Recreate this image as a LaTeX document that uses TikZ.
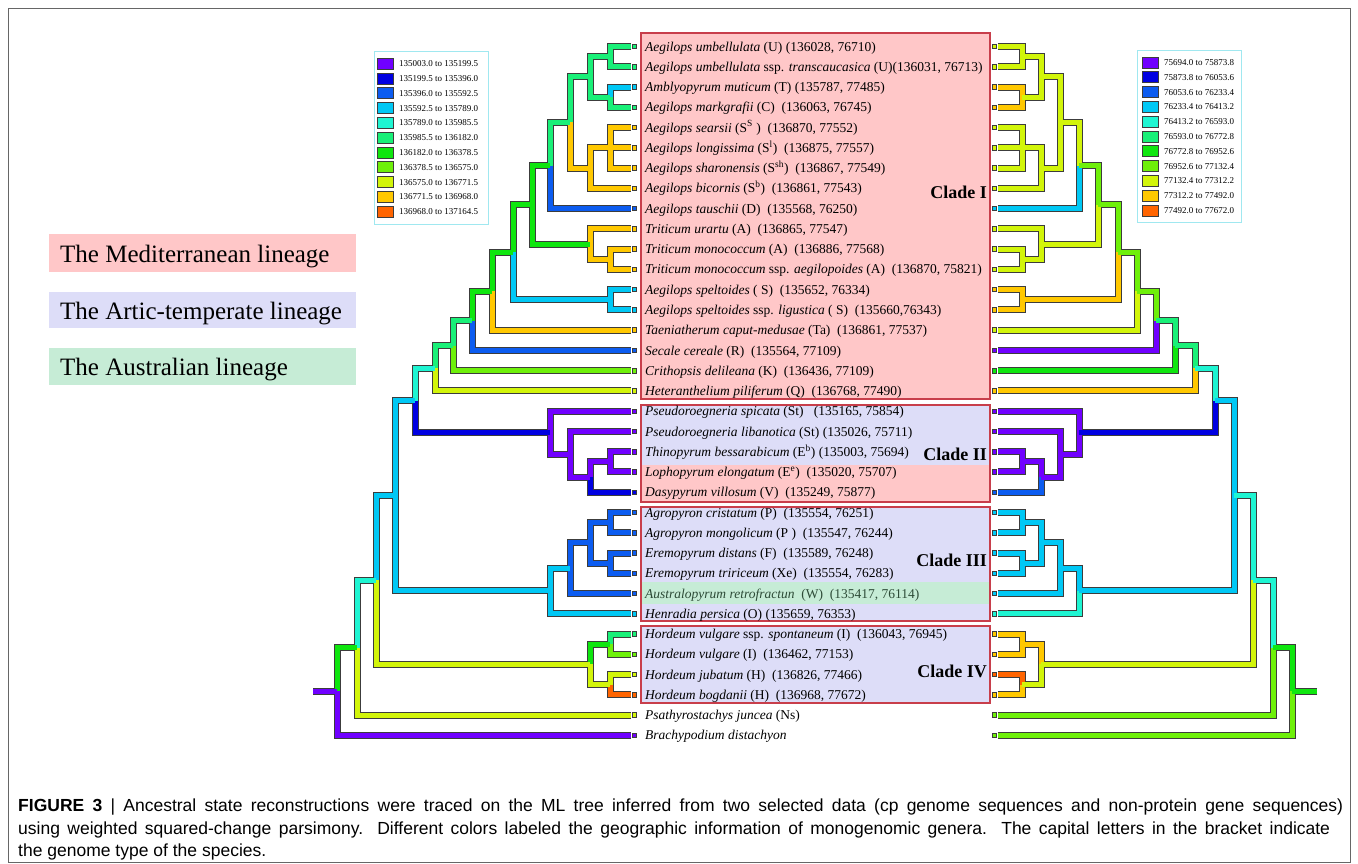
\documentclass[tikz,border=0pt]{standalone}
\usepackage{fontspec}
\setmainfont{Liberation Serif}
\newfontfamily\capfont{Liberation Sans}
\definecolor{cpu}{RGB}{112,0,255}
\definecolor{cbl}{RGB}{0,0,225}
\definecolor{cmb}{RGB}{12,92,240}
\definecolor{csk}{RGB}{0,200,245}
\definecolor{caq}{RGB}{30,245,210}
\definecolor{csg}{RGB}{25,240,120}
\definecolor{cgr}{RGB}{15,230,15}
\definecolor{cyg}{RGB}{110,240,10}
\definecolor{cli}{RGB}{210,245,10}
\definecolor{cam}{RGB}{255,200,0}
\definecolor{cor}{RGB}{255,100,0}
\definecolor{pinkfill}{RGB}{255,199,200}
\definecolor{lavfill}{RGB}{221,221,248}
\definecolor{grnfill}{RGB}{198,236,214}
\definecolor{cladeedge}{RGB}{200,62,75}
\definecolor{legedge}{RGB}{160,232,240}
\definecolor{outl}{RGB}{60,60,60}
\tikzset{
  brout/.style={line width=7pt, draw=outl, line join=miter},
  brin/.style={line width=5pt, line join=miter},
  taxon/.style={anchor=base west, inner sep=0pt, font=\fontsize{13.5}{15}\selectfont},
  cladelab/.style={anchor=east, inner sep=0pt, font=\fontsize{18}{20}\selectfont\bfseries},
  cladebox/.style={draw=cladeedge, line width=1.6pt},
  legtext/.style={anchor=west, inner sep=0pt, font=\fontsize{9}{10}\selectfont},
  swatch/.style={draw=outl, line width=0.8pt, minimum width=16pt, minimum height=11pt, inner sep=0pt},
  tipmark/.style={draw=outl, line width=0.8pt, minimum size=4.5pt, inner sep=0pt},
  lineage/.style={anchor=base west, inner sep=0pt, font=\fontsize{25}{28}\selectfont},
  captext/.style={anchor=base west, inner sep=0pt, font=\capfont\fontsize{17.5}{20}\selectfont}
}
\begin{document}
\begin{tikzpicture}[x=1pt,y=-1pt]
\useasboundingbox (0,0) rectangle (1358,864);
\fill[white] (0,0) rectangle (1358,864);
\draw[gray!80!black, line width=0.9pt] (8,8) rectangle (1350,862);

% lineage legend
\fill[pinkfill] (49,234) rectangle (356,272);
\fill[lavfill] (49,292) rectangle (356,328);
\fill[grnfill] (49,348) rectangle (356,385);
\node[lineage] (lin1) at (60,262) {The Mediterranean lineage};
\node[lineage] (lin2) at (60,319) {The Artic-temperate lineage};
\node[lineage] (lin3) at (60,375) {The Australian lineage};

% clade boxes
\fill[pinkfill] (641,33) rectangle (990,399);
\fill[lavfill] (641,405) rectangle (990,465);
\fill[pinkfill] (641,465) rectangle (990,502);
\fill[lavfill] (641,507) rectangle (990,621);
\fill[grnfill] (641,582) rectangle (990,604);
\fill[lavfill] (641,626) rectangle (990,703);
\draw[cladebox] (641,33) rectangle (990,399);
\draw[cladebox] (641,405) rectangle (990,502);
\draw[cladebox] (641,507) rectangle (990,621);
\draw[cladebox] (641,626) rectangle (990,703);
\node[cladelab] (cl1) at (987,192) {Clade I};
\node[cladelab] (cl2) at (987,454) {Clade II};
\node[cladelab] (cl3) at (987,560) {Clade III};
\node[cladelab] (cl4) at (987,671) {Clade IV};

% taxa
\node[taxon] (tx1) at (645,{51.1+20.26*0}) {\textit{Aegilops umbellulata} (U) (136028, 76710)};
\node[taxon] (tx2) at (645,{51.1+20.26*1}) {\textit{Aegilops umbellulata} ssp. \textit{transcaucasica} (U)(136031, 76713)};
\node[taxon] (tx3) at (645,{51.1+20.26*2}) {\textit{Amblyopyrum muticum} (T) (135787, 77485)};
\node[taxon] (tx4) at (645,{51.1+20.26*3}) {\textit{Aegilops markgrafii} (C)\ \ (136063, 76745)};
\node[taxon] (tx5) at (645,{51.1+20.26*4}) {\textit{Aegilops searsii} (S\textsuperscript{S} )\ \ (136870, 77552)};
\node[taxon] (tx6) at (645,{51.1+20.26*5}) {\textit{Aegilops longissima} (S\textsuperscript{l})\ \ (136875, 77557)};
\node[taxon] (tx7) at (645,{51.1+20.26*6}) {\textit{Aegilops sharonensis} (S\textsuperscript{sh})\ \ (136867, 77549)};
\node[taxon] (tx8) at (645,{51.1+20.26*7}) {\textit{Aegilops bicornis} (S\textsuperscript{b})\ \ (136861, 77543)};
\node[taxon] (tx9) at (645,{51.1+20.26*8}) {\textit{Aegilops tauschii} (D)\ \ (135568, 76250)};
\node[taxon] (tx10) at (645,{51.1+20.26*9}) {\textit{Triticum urartu} (A)\ \ (136865, 77547)};
\node[taxon] (tx11) at (645,{51.1+20.26*10}) {\textit{Triticum monococcum} (A)\ \ (136886, 77568)};
\node[taxon] (tx12) at (645,{51.1+20.26*11}) {\textit{Triticum monococcum} ssp. \textit{aegilopoides} (A)\ \ (136870, 75821)};
\node[taxon] (tx13) at (645,{51.1+20.26*12}) {\textit{Aegilops speltoides} ( S)\ \ (135652, 76334)};
\node[taxon] (tx14) at (645,{51.1+20.26*13}) {\textit{Aegilops speltoides} ssp. \textit{ligustica} ( S)\ \ (135660,76343)};
\node[taxon] (tx15) at (645,{51.1+20.26*14}) {\textit{Taeniatherum caput-medusae} (Ta)\ \ (136861, 77537)};
\node[taxon] (tx16) at (645,{51.1+20.26*15}) {\textit{Secale cereale} (R)\ \ (135564, 77109)};
\node[taxon] (tx17) at (645,{51.1+20.26*16}) {\textit{Crithopsis delileana} (K)\ \ (136436, 77109)};
\node[taxon] (tx18) at (645,{51.1+20.26*17}) {\textit{Heteranthelium piliferum} (Q)\ \ (136768, 77490)};
\node[taxon] (tx19) at (645,{51.1+20.26*18}) {\textit{Pseudoroegneria spicata} (St)\ \ \ (135165, 75854)};
\node[taxon] (tx20) at (645,{51.1+20.26*19}) {\textit{Pseudoroegneria libanotica} (St) (135026, 75711)};
\node[taxon] (tx21) at (645,{51.1+20.26*20}) {\textit{Thinopyrum bessarabicum} (E\textsuperscript{b}) (135003, 75694)};
\node[taxon] (tx22) at (645,{51.1+20.26*21}) {\textit{Lophopyrum elongatum} (E\textsuperscript{e})\ \ (135020, 75707)};
\node[taxon] (tx23) at (645,{51.1+20.26*22}) {\textit{Dasypyrum villosum} (V)\ \ (135249, 75877)};
\node[taxon] (tx24) at (645,{51.1+20.26*23}) {\textit{Agropyron cristatum} (P)\ \ (135554, 76251)};
\node[taxon] (tx25) at (645,{51.1+20.26*24}) {\textit{Agropyron mongolicum} (P )\ \ (135547, 76244)};
\node[taxon] (tx26) at (645,{51.1+20.26*25}) {\textit{Eremopyrum distans} (F)\ \ (135589, 76248)};
\node[taxon] (tx27) at (645,{51.1+20.26*26}) {\textit{Eremopyrum tririceum} (Xe)\ \ (135554, 76283)};
\node[taxon, text={rgb,255:red,45;green,75;blue,55}] (tx28) at (645,{51.1+20.26*27}) {\textit{Australopyrum retrofractun}\ \ (W)\ \ (135417, 76114)};
\node[taxon] (tx29) at (645,{51.1+20.26*28}) {\textit{Henradia persica} (O) (135659, 76353)};
\node[taxon] (tx30) at (645,{51.1+20.26*29}) {\textit{Hordeum vulgare} ssp. \textit{spontaneum} (I)\ \ (136043, 76945)};
\node[taxon] (tx31) at (645,{51.1+20.26*30}) {\textit{Hordeum vulgare} (I)\ \ (136462, 77153)};
\node[taxon] (tx32) at (645,{51.1+20.26*31}) {\textit{Hordeum jubatum} (H)\ \ (136826, 77466)};
\node[taxon] (tx33) at (645,{51.1+20.26*32}) {\textit{Hordeum bogdanii} (H)\ \ (136968, 77672)};
\node[taxon] (tx34) at (645,{51.1+20.26*33}) {\textit{Psathyrostachys juncea} (Ns)};
\node[taxon] (tx35) at (645,{51.1+20.26*34}) {\textit{Brachypodium distachyon}};

% colour scale legends
\draw[legedge, line width=1pt] (374,52) rectangle (488,224);
\draw[legedge, line width=1pt] (1137,51) rectangle (1241,222);
\foreach \i/\c/\t in {0/cpu/135003.0 to 135199.5, 1/cbl/135199.5 to 135396.0, 2/cmb/135396.0 to 135592.5, 3/csk/135592.5 to 135789.0, 4/caq/135789.0 to 135985.5, 5/csg/135985.5 to 136182.0, 6/cgr/136182.0 to 136378.5, 7/cyg/136378.5 to 136575.0, 8/cli/136575.0 to 136771.5, 9/cam/136771.5 to 136968.0, 10/cor/136968.0 to 137164.5}{
  \node[swatch, fill=\c] (lsw\i) at (385.5,{63.8+14.8*\i}) {};
  \node[legtext] (lst\i) at (399,{63.8+14.8*\i}) {\t};
}
\foreach \i/\c/\t in {0/cpu/75694.0 to 75873.8, 1/cbl/75873.8 to 76053.6, 2/cmb/76053.6 to 76233.4, 3/csk/76233.4 to 76413.2, 4/caq/76413.2 to 76593.0, 5/csg/76593.0 to 76772.8, 6/cgr/76772.8 to 76952.6, 7/cyg/76952.6 to 77132.4, 8/cli/77132.4 to 77312.2, 9/cam/77312.2 to 77492.0, 10/cor/77492.0 to 77672.0}{
  \node[swatch, fill=\c] (rsw\i) at (1150,{62.5+14.8*\i}) {};
  \node[legtext] (rst\i) at (1164,{62.5+14.8*\i}) {\t};
}

% tree coordinates
\foreach \i in {1,...,35}{
  \coordinate (lt\i) at (631,{46.5+20.26*(\i-1)});
  \coordinate (rt\i) at (998,{46.5+20.26*(\i-1)});
}
\foreach \n/\x/\y in {L12/610/56.63, L34/610/97.15, L14/590/76.89, L57/610/147.8, L58/590/168.06,
  L18/570/122.48, L19/550/165.53, L1112/610/259.23, L1012/590/244.04, L112/532/204.78,
  L1314/610/299.75, L114/513/252.27, L115/492/291.2, L116/472/320.8, L117/453/345.73,
  L118/435/368.33, L2122/610/461.83, L2123/590/477.03, L2023/570/454.23, L1923/550/432.7,
  L123/415/400.52, L2425/610/522.61, L2627/610/563.13, L2427/590/542.87, L2428/570/568.2,
  L2429/550/590.99, L129/395/495.76, L3031/610/644.17, L3233/610/684.69, L3033/590/664.43,
  L133/376/580.1, L134/357/647.59, L135/337/691.47, Lroot/313/691.47,
  R12/1022/56.63, R34/1022/97.15, R14/1041/76.89, R57/1022/147.8, R58/1041/168.06,
  R18/1060/122.48, R19/1079/165.53, R1112/1022/259.23, R1012/1041/244.04, R112/1098/204.78,
  R1314/1022/299.75, R114/1118/252.27, R115/1137/291.2, R116/1156/320.8, R117/1175/345.73,
  R118/1195/368.33, R2122/1022/461.83, R2123/1041/477.03, R2023/1060/454.23, R1923/1079/432.7,
  R123/1215/400.52, R2425/1022/522.61, R2627/1022/563.13, R2427/1041/542.87, R2428/1060/568.2,
  R2429/1079/590.99, R129/1234/495.76, R3031/1022/644.17, R3233/1022/684.69, R3033/1041/664.43,
  R133/1253/580.1, R134/1273/647.59, R135/1292/691.47, Rroot/1317/691.47}{
  \coordinate (\n) at (\x,\y);
}
\def\branchlist{L12/lt1/csg, L12/lt2/csg, L34/lt3/csk, L34/lt4/csg, L14/L12/csg, L14/L34/csg,
  L57/lt5/cam, L57/lt6/cam, L57/lt7/cam, L58/L57/cam, L58/lt8/cam, L18/L14/csg, L18/L58/cam,
  L19/L18/csg, L19/lt9/cmb, L1112/lt11/cam, L1112/lt12/cam, L1012/lt10/cam, L1012/L1112/cam,
  L112/L19/cgr, L112/L1012/cgr, L1314/lt13/csk, L1314/lt14/csk, L114/L112/cgr, L114/L1314/csk,
  L115/L114/cgr, L115/lt15/cam, L116/L115/cgr, L116/lt16/cmb, L117/L116/csg, L117/lt17/cyg,
  L118/L117/csg, L118/lt18/cli, L2122/lt21/cpu, L2122/lt22/cpu, L2123/L2122/cpu, L2123/lt23/cbl,
  L2023/lt20/cpu, L2023/L2123/cpu, L1923/lt19/cpu, L1923/L2023/cpu, L123/L118/caq, L123/L1923/cbl,
  L2425/lt24/cmb, L2425/lt25/cmb, L2627/lt26/cmb, L2627/lt27/cmb, L2427/L2425/cmb, L2427/L2627/cmb,
  L2428/L2427/cmb, L2428/lt28/cmb, L2429/L2428/csk, L2429/lt29/csk, L129/L123/csk, L129/L2429/csk,
  L3031/lt30/csg, L3031/lt31/cyg, L3233/lt32/cli, L3233/lt33/cor, L3033/L3031/cgr, L3033/L3233/cli,
  L133/L129/csk, L133/L3033/cli, L134/L133/caq, L134/lt34/cli, L135/L134/cgr, L135/lt35/cpu,
  Lroot/L135/cpu,
  R12/rt1/cli, R12/rt2/cli, R34/rt3/cam, R34/rt4/cam, R14/R12/cli, R14/R34/cli,
  R57/rt5/cli, R57/rt6/cli, R57/rt7/cli, R58/R57/cli, R58/rt8/cli, R18/R14/cli, R18/R58/cli,
  R19/R18/cli, R19/rt9/csk, R1112/rt11/cli, R1112/rt12/cli, R1012/rt10/cli, R1012/R1112/cli,
  R112/R19/cyg, R112/R1012/cli, R1314/rt13/cam, R1314/rt14/cam, R114/R112/cyg, R114/R1314/cam,
  R115/R114/cyg, R115/rt15/cli, R116/R115/cyg, R116/rt16/cpu, R117/R116/csg, R117/rt17/cgr,
  R118/R117/csg, R118/rt18/cam, R2122/rt21/cpu, R2122/rt22/cpu, R2123/R2122/cpu, R2123/rt23/cmb,
  R2023/rt20/cpu, R2023/R2123/cpu, R1923/rt19/cpu, R1923/R2023/cpu, R123/R118/caq, R123/R1923/cbl,
  R2425/rt24/csk, R2425/rt25/csk, R2627/rt26/csk, R2627/rt27/csk, R2427/R2425/csk, R2427/R2627/csk,
  R2428/R2427/csk, R2428/rt28/csk, R2429/R2428/csk, R2429/rt29/caq, R129/R123/csk, R129/R2429/csk,
  R3031/rt30/cam, R3031/rt31/cam, R3233/rt32/cor, R3233/rt33/cam, R3033/R3031/cam, R3033/R3233/cli,
  R133/R129/caq, R133/R3033/cli, R134/R133/caq, R134/rt34/cyg, R135/R134/cgr, R135/rt35/cyg,
  Rroot/R135/cgr}
\foreach \p/\c/\col in \branchlist { \draw[brout] (\p) |- (\c); }
\foreach \p/\c/\col in \branchlist { \draw[brin, draw=\col] (\p) |- (\c); }

% tip markers
\foreach \i/\a/\b in {1/csg/cli, 2/csg/cli, 3/csk/cam, 4/csg/cam, 5/cam/cli, 6/cam/cli, 7/cam/cli, 8/cam/cli,
  9/cmb/csk, 10/cam/cli, 11/cam/cli, 12/cam/cli, 13/csk/cam, 14/csk/cam, 15/cam/cli, 16/cmb/cpu,
  17/cyg/cgr, 18/cli/cam, 19/cpu/cpu, 20/cpu/cpu, 21/cpu/cpu, 22/cpu/cpu, 23/cbl/cmb, 24/cmb/csk,
  25/cmb/csk, 26/cmb/csk, 27/cmb/csk, 28/cmb/csk, 29/csk/caq, 30/csg/cam, 31/cyg/cam, 32/cli/cor,
  33/cor/cam, 34/cli/cyg, 35/cpu/cyg}{
  \node[tipmark, fill=\a] (lm\i) at (634.5,{46.5+20.26*(\i-1)}) {};
  \node[tipmark, fill=\b] (rm\i) at (994.5,{46.5+20.26*(\i-1)}) {};
}

% caption
\node[captext] (cap1) at (18,811) {\makebox[1325pt][s]{\textbf{FIGURE 3} | Ancestral state reconstructions were traced on the ML tree inferred from two selected data (cp genome sequences and non-protein gene sequences)}};
\node[captext] (cap2) at (18,834) {\makebox[1312pt][s]{using weighted squared-change parsimony. Different colors labeled the geographic information of monogenomic genera. The capital letters in the bracket indicate}};
\node[captext] (cap3) at (18,856) {the genome type of the species.};
\end{tikzpicture}
\end{document}
